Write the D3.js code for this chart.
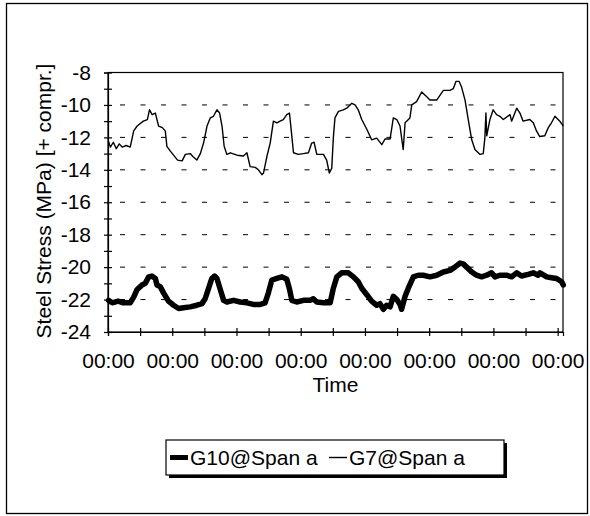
<!DOCTYPE html>
<html>
<head>
<meta charset="utf-8">
<script src="https://cdn.jsdelivr.net/npm/d3@7"></script>
<style>
  body { margin: 0; background: #fff; }
  text { font-family: "Liberation Sans", Arial, Helvetica, sans-serif; fill: #000; }
</style>
</head>
<body>
<div id="chart-area"></div>
<script>
// --- Data (hours since start, stress in MPa) ---
var g10Hours = [0.2, 1.6, 3.8, 5.7, 8.3, 9.6, 10.8, 12.7, 13.9, 15.2, 16.4, 17.7, 18.3, 19.5, 20.8, 22.6, 24.5, 26.4, 28.2, 30.7,
  33.2, 35.1, 36.3, 37.6, 38.8, 39.8, 40.7, 41.9, 43.2, 44.4, 46.9, 49.4, 51.9, 54.3, 56.9, 58.7, 59.9, 61.2, 63.1, 65.0,
  66.8, 67.8, 68.7, 70.5, 73.0, 75.5, 76.7, 78.0, 80.5, 83.0, 84.2, 85.5, 87.3, 89.8, 91.7, 93.5, 94.8, 96.7, 98.5, 100.4,
  101.6, 102.9, 104.1, 105.4, 106.6, 107.9, 109.1, 109.7, 111.0, 112.2, 114.1, 115.9, 117.8, 120.3, 122.8, 125.3, 127.8, 129.6, 131.5, 132.7,
  134.0, 135.9, 137.7, 139.6, 141.5, 143.3, 144.6, 146.4, 148.9, 150.8, 152.7, 154.5, 157.0, 158.9, 160.7, 161.4, 163.9, 165.7, 167.6, 169.5, 170.1];
var g10Values = [-22.05, -22.2, -22.1, -22.2, -22.2, -21.85, -21.4, -21.1, -21.0, -20.6, -20.55, -20.7, -21.1, -21.2, -21.6, -22.1, -22.35, -22.55, -22.5, -22.45,
  -22.35, -22.25, -21.95, -21.3, -20.7, -20.55, -20.7, -21.35, -22.05, -22.15, -22.05, -22.15, -22.2, -22.3, -22.3, -22.2, -21.6, -20.8, -20.7, -20.6,
  -20.75, -21.35, -22.05, -22.15, -22.05, -22.05, -21.95, -22.15, -22.2, -22.2, -21.3, -20.6, -20.35, -20.35, -20.6, -20.9, -21.3, -21.7, -22.1, -22.35,
  -22.25, -22.6, -22.35, -22.45, -21.8, -22.0, -22.3, -22.6, -21.8, -21.3, -20.6, -20.5, -20.5, -20.6, -20.5, -20.3, -20.2, -20.0, -19.75, -19.8,
  -20.0, -20.3, -20.5, -20.6, -20.5, -20.35, -20.6, -20.5, -20.5, -20.6, -20.35, -20.55, -20.45, -20.35, -20.5, -20.35, -20.6, -20.65, -20.7, -20.9, -21.1];

var g7Hours = [0.2, 0.9, 2.0, 3.1, 4.2, 5.3, 6.8, 8.3, 9.6, 10.9, 13.2, 14.7, 15.5, 16.5, 17.7, 18.9, 20.3, 21.4, 22.0, 23.3,
  26.0, 27.7, 28.9, 30.7, 31.8, 33.2, 34.5, 35.7, 37.0, 38.2, 39.4, 40.7, 41.7, 42.6, 43.4, 44.4, 45.7, 48.2, 50.6, 51.9,
  53.1, 55.0, 56.2, 57.5, 58.1, 59.4, 60.6, 61.8, 63.1, 64.3, 65.5, 66.8, 67.8, 68.7, 69.3, 71.1, 73.0, 74.9, 76.1, 77.0,
  78.0, 80.5, 81.7, 82.7, 83.6, 84.2, 84.8, 86.1, 87.9, 89.2, 91.1, 92.3, 93.5, 94.8, 96.7, 98.5, 100.4, 102.3, 103.5, 105.4,
  106.6, 107.9, 109.1, 110.3, 111.0, 112.8, 113.5, 115.3, 117.2, 119.1, 120.3, 122.8, 125.3, 127.8, 129.0, 130.0, 131.2, 132.1, 133.4, 134.6,
  135.9, 137.1, 139.0, 140.2, 140.8, 141.2, 141.5, 142.7, 143.9, 145.2, 146.4, 147.7, 150.2, 150.8, 152.7, 153.9, 155.1, 157.6, 158.9, 160.1,
  161.3, 163.2, 164.5, 165.7, 167.0, 168.8, 170.1];
var g7Values = [-12.25, -12.6, -12.3, -12.7, -12.4, -12.6, -12.5, -12.6, -11.6, -11.3, -11.0, -10.9, -10.3, -10.6, -10.5, -11.3, -11.4, -11.6, -12.55, -12.85,
  -13.4, -13.45, -13.05, -13.0, -13.2, -13.4, -13.0, -12.35, -11.3, -10.8, -10.7, -10.3, -10.5, -11.3, -12.55, -13.05, -12.95, -13.1, -13.15, -12.95,
  -13.8, -13.85, -14.0, -14.3, -14.2, -13.15, -12.35, -11.0, -11.1, -11.0, -10.9, -10.6, -10.5, -11.95, -12.95, -13.05, -13.0, -12.95, -12.35, -12.3,
  -13.05, -13.05, -13.4, -14.2, -13.9, -12.0, -10.8, -10.4, -10.3, -10.2, -9.9, -10.0, -10.3, -10.9, -11.5, -12.15, -12.05, -12.45, -12.1, -12.1,
  -10.8, -10.9, -11.3, -12.75, -11.1, -10.8, -10.0, -9.8, -9.2, -9.5, -9.7, -9.7, -9.1, -9.1, -9.0, -8.55, -8.55, -8.9, -9.7, -10.9,
  -12.15, -12.75, -13.05, -13.0, -12.05, -10.5, -11.9, -10.9, -10.3, -10.6, -10.7, -10.9, -10.6, -11.0, -10.2, -10.5, -11.0, -10.9, -11.1, -11.6,
  -11.95, -11.9, -11.4, -11.1, -10.7, -11.0, -11.3];

var seriesNames = ["G10@Span a", "G7@Span a"];
var yTicks = [-8, -10, -12, -14, -16, -18, -20, -22, -24];
var totalHours = 170;

// --- Canvas ---
var canvasWidth = 590;
var canvasHeight = 516;
var svg = d3.select("#chart-area").append("svg")
  .attr("width", canvasWidth)
  .attr("height", canvasHeight);

// outer frame
svg.append("rect")
  .attr("x", 6.5).attr("y", 3.5)
  .attr("width", 581).attr("height", 510)
  .attr("fill", "none").attr("stroke", "#000").attr("stroke-width", 1.3);

var plot = {left: 108, top: 72.5, right: 563, bottom: 332};
var fontSize = 21;

var startDate = new Date(2000, 0, 1, 0, 0);
function toDate(h) { return new Date(startDate.getTime() + h * 3600 * 1000); }

var xScale = d3.scaleTime()
  .domain([startDate, toDate(totalHours)])
  .range([plot.left, plot.right]);
var yScale = d3.scaleLinear()
  .domain([-24, -8])
  .range([plot.bottom, plot.top]);

// dashed grid lines
svg.append("g").selectAll("line")
  .data(yTicks.filter(function(d) { return d > -24 && d < -8; }))
  .enter().append("line")
  .attr("x1", plot.left + 12).attr("x2", plot.right)
  .attr("y1", function(d) { return yScale(d); })
  .attr("y2", function(d) { return yScale(d); })
  .attr("stroke", "#000").attr("stroke-width", 1)
  .attr("stroke-dasharray", "5,15.5");

// plot border
svg.append("rect")
  .attr("x", plot.left).attr("y", plot.top)
  .attr("width", plot.right - plot.left).attr("height", plot.bottom - plot.top)
  .attr("fill", "none").attr("stroke", "#000").attr("stroke-width", 1.2);

// --- Axes ---
var yAxis = d3.axisLeft(yScale)
  .tickValues(d3.range(-24, -7, 1))
  .tickSize(4)
  .tickPadding(13)
  .tickFormat(function(d) { return d % 2 === 0 ? d : ""; });
var yAxisGroup = svg.append("g")
  .attr("transform", "translate(" + plot.left + ",0)")
  .call(yAxis);

var xAxis = d3.axisBottom(xScale)
  .tickValues(d3.range(0, totalHours, 12).map(toDate))
  .tickSize(4)
  .tickPadding(17)
  .tickFormat(function(d) { return d.getHours() === 0 ? d3.timeFormat("%H:%M")(d) : ""; });
var xAxisGroup = svg.append("g")
  .attr("transform", "translate(0," + plot.bottom + ")")
  .call(xAxis);

[yAxisGroup, xAxisGroup].forEach(function(g) {
  g.select(".domain").attr("stroke", "#000").attr("stroke-width", 1.2);
  g.selectAll("text").attr("font-size", fontSize + "px").attr("font-family", null).attr("fill", "#000");
});
yAxisGroup.selectAll(".tick line").attr("x1", 4).attr("stroke", "#000").attr("stroke-width", 1.2);
xAxisGroup.selectAll(".tick line").attr("y1", -4).attr("stroke", "#000").attr("stroke-width", 1.2);

// axis titles
svg.append("text")
  .text("Steel Stress (MPa) [+ compr.]")
  .attr("transform", "translate(51,201) rotate(-90)")
  .attr("text-anchor", "middle")
  .attr("font-size", fontSize + "px");

svg.append("text")
  .text("Time")
  .attr("x", (plot.left + plot.right) / 2)
  .attr("y", 392)
  .attr("text-anchor", "middle")
  .attr("font-size", fontSize + "px");

// --- Lines ---
var line = d3.line()
  .x(function(d) { return xScale(toDate(d[0])); })
  .y(function(d) { return yScale(d[1]); });

var g7Data = g7Hours.map(function(h, i) { return [h, g7Values[i]]; });
var g10Data = g10Hours.map(function(h, i) { return [h, g10Values[i]]; });

svg.append("path")
  .datum(g7Data)
  .attr("d", line)
  .attr("fill", "none").attr("stroke", "#000").attr("stroke-width", 1.4)
  .attr("stroke-linejoin", "round");

svg.append("path")
  .datum(g10Data)
  .attr("d", line)
  .attr("fill", "none").attr("stroke", "#000").attr("stroke-width", 5.5)
  .attr("stroke-linejoin", "round").attr("stroke-linecap", "round");

// --- Legend ---
var legend = {x: 166, y: 440, w: 338, h: 35};
svg.append("rect")
  .attr("x", legend.x + 3).attr("y", legend.y + 3)
  .attr("width", legend.w).attr("height", legend.h)
  .attr("fill", "#000");
svg.append("rect")
  .attr("x", legend.x).attr("y", legend.y)
  .attr("width", legend.w).attr("height", legend.h)
  .attr("fill", "#fff").attr("stroke", "#000").attr("stroke-width", 1.2);

var legendY = legend.y + legend.h / 2;
var legendItems = [
  {name: seriesNames[0], width: 5, x: legend.x + 4},
  {name: seriesNames[1], width: 1.4, x: legend.x + 163}
];
legendItems.forEach(function(item) {
  svg.append("line")
    .attr("x1", item.x).attr("x2", item.x + 18)
    .attr("y1", legendY).attr("y2", legendY)
    .attr("stroke", "#000").attr("stroke-width", item.width);
  svg.append("text")
    .text(item.name)
    .attr("x", item.x + 20)
    .attr("y", legendY + 7.5)
    .attr("font-size", fontSize + "px");
});
</script>
</body>
</html>
